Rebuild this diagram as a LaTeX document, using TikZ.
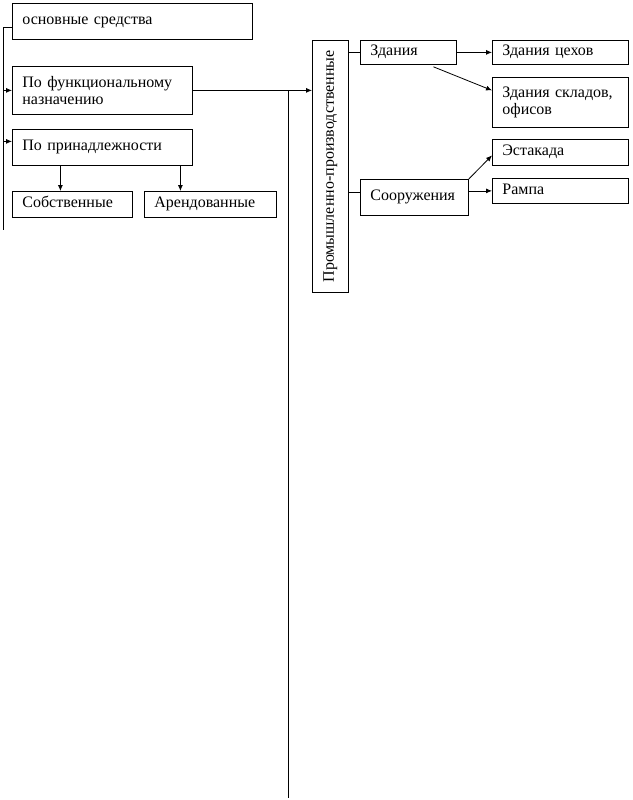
\documentclass[tikz,border=0pt]{standalone}
\usepackage{fontspec}
\setmainfont{Liberation Serif}
\usetikzlibrary{arrows.meta,positioning,calc}

\begin{document}
\begin{tikzpicture}[x=1pt,y=-1pt,
  box/.style={draw,line width=0.8pt,anchor=north west,align=left,inner xsep=10pt,inner ysep=0pt,font=\fontsize{16}{17}\selectfont},
  oneline/.style={box,text height=11pt,text depth=4pt},
  arr/.style={-{Latex[length=6pt,width=5pt]},line width=0.8pt},
  ln/.style={line width=0.8pt}]
\useasboundingbox (0,0) rectangle (632,800);
% left column
\node[oneline,text width=220pt,minimum height=36pt](osn)at(12,3){основные средства};
\node[box,text width=160pt,minimum height=48pt](func)at(12,66){По функциональному\\назначению};
\node[oneline,text width=160pt,minimum height=36pt](prin)at(12,129){По принадлежности};
\node[oneline,text width=100pt,minimum height=26pt](sob)at(12,191){Собственные};
\node[oneline,text width=112pt,minimum height=26pt](ar)at(144,191){Арендованные};
% right part
\node[box,inner xsep=0pt,minimum width=36pt,minimum height=252pt](prom)at(312,40){\rotatebox{90}{Промышленно-производственные}};
\node[oneline,text width=76pt,minimum height=24pt](zd)at(360,40){Здания};
\node[oneline,text width=88pt,minimum height=36pt](soor)at(360,179){Сооружения};
\node[oneline,text width=116pt,minimum height=24pt](zdc)at(492,40){Здания цехов};
\node[box,text width=116pt,minimum height=50pt](zds)at(492,77){Здания складов,\\офисов};
\node[oneline,text width=116pt,minimum height=26pt](est)at(492,139){Эстакада};
\node[oneline,text width=116pt,minimum height=25pt](ramp)at(492,178){Рампа};
% trunk on the left
\coordinate(t0)at(3,27);
\coordinate(t1)at(3,230);
\draw[ln](osn.west|-t0)--(t0)--(t1);
\draw[arr](t0|-func.west)--(func.west);
\coordinate(p0)at([yshift=6pt]prin.west);
\draw[arr](t0|-p0)--(p0);
\coordinate(s0)at([xshift=-12pt]sob.north);
\coordinate(a0)at([xshift=-30pt]ar.north);
\draw[arr](s0|-prin.south)--(s0);
\draw[arr](a0|-prin.south)--(a0);
% bus and branches
\coordinate(b1)at(288,798);
\draw[arr](func.east)--(prom.west|-func.east);
\draw[ln](b1|-func.east)--(b1);
\draw[ln](prom.east|-zd.west)--(zd.west);
\coordinate(c0)at([yshift=5pt]soor.west);
\draw[ln](prom.east|-c0)--(c0);
\draw[arr](zd.east)--(zdc.west);
\draw[arr]([xshift=25pt,yshift=-2pt]zd.south)--([yshift=12pt]zds.west);
\draw[arr](soor.north east)--([yshift=-3pt]est.west);
\draw[arr](ramp.west-|soor.east)--(ramp.west);
\end{tikzpicture}
\end{document}
